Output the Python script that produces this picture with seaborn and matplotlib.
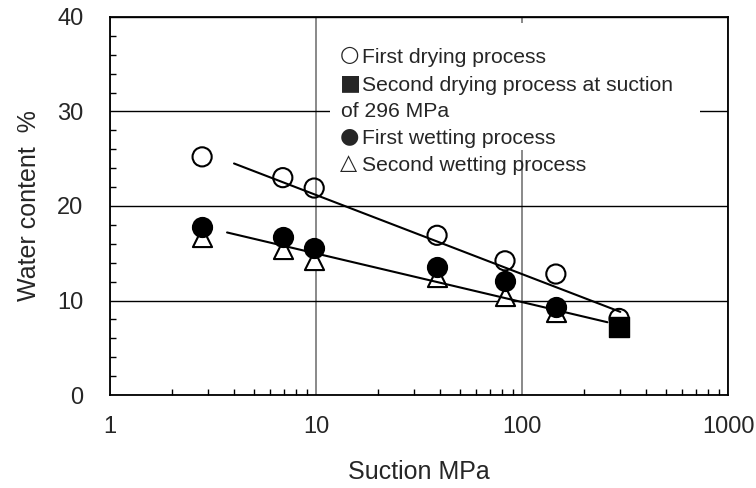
import matplotlib
matplotlib.use("Agg")
import matplotlib.pyplot as plt
from matplotlib.patches import Rectangle
from matplotlib.ticker import FixedLocator, LogLocator, MultipleLocator, NullFormatter
import seaborn as sns
import pandas as pd

# Messwerte (Saugspannung in MPa, Wassergehalt in %)
suction = [2.8, 6.9, 9.8, 38.7, 82.7, 146, 296]
first_drying = [25.2, 23.0, 21.9, 16.9, 14.2, 12.8, 8.1]

suction_wet = [2.8, 6.9, 9.8, 38.7, 82.7, 146]
first_wetting = [17.8, 16.7, 15.6, 13.5, 12.1, 9.3]
second_wetting = [16.7, 15.5, 14.3, 12.5, 10.5, 8.8]

suction_second_drying = [296]
second_drying = [7.2]

fit_dry_x = [4.0, 300]
fit_dry_y = [24.5, 8.8]
fit_wet_x = [3.7, 260]
fit_wet_y = [17.2, 7.7]

# Legende: Symbol + Text je Zeile
legend_symbols = ["\u25cb", "\u25a0", "", "\u25cf", "\u25b3"]
legend_texts = [
    "First drying process",
    "Second drying process at suction",
    "of 296 MPa",
    "First wetting process",
    "Second wetting process",
]

sns.set_style("white")
plt.rcParams["font.family"] = ["Liberation Sans", "DejaVu Sans"]
plt.rcParams["font.size"] = 15.5

df_dry = pd.DataFrame({"s": suction, "w": first_drying})
df_wet1 = pd.DataFrame({"s": suction_wet, "w": first_wetting})
df_wet2 = pd.DataFrame({"s": suction_wet, "w": second_wetting})
df_dry2 = pd.DataFrame({"s": suction_second_drying, "w": second_drying})
df_fit_dry = pd.DataFrame({"s": fit_dry_x, "w": fit_dry_y})
df_fit_wet = pd.DataFrame({"s": fit_wet_x, "w": fit_wet_y})

fig = plt.figure(figsize=(7.56, 4.88), dpi=100)
ax = fig.add_axes([110 / 756, 93 / 488, 618 / 756, 378 / 488])
ax.set_xscale("log")

sns.scatterplot(data=df_wet2, x="s", y="w", ax=ax, marker="^", s=190,
                facecolor="white", edgecolor="black", linewidth=1.5, zorder=3)
sns.scatterplot(data=df_wet1, x="s", y="w", ax=ax, marker="o", s=190,
                facecolor="black", edgecolor="black", linewidth=1.5, zorder=4)
sns.lineplot(data=df_fit_dry, x="s", y="w", ax=ax, color="black", linewidth=1.5, zorder=5)
sns.lineplot(data=df_fit_wet, x="s", y="w", ax=ax, color="black", linewidth=1.5, zorder=5)
sns.scatterplot(data=df_dry, x="s", y="w", ax=ax, marker="o", s=190,
                facecolor="none", edgecolor="black", linewidth=1.5, zorder=6)
sns.scatterplot(data=df_dry2, x="s", y="w", ax=ax, marker="s", s=200,
                facecolor="black", edgecolor="black", linewidth=1, zorder=7)

ax.set_xlim(1, 1000)
ax.set_ylim(0, 40)

ax.xaxis.set_major_locator(FixedLocator([1, 10, 100, 1000]))
ax.set_xticklabels(["1", "10", "100", "1000"])
ax.xaxis.set_minor_locator(LogLocator(base=10, subs=[2, 3, 4, 5, 6, 7, 8, 9]))
ax.xaxis.set_minor_formatter(NullFormatter())
ax.yaxis.set_major_locator(MultipleLocator(10))
ax.yaxis.set_minor_locator(MultipleLocator(2))

ax.tick_params(which="major", length=0)
ax.tick_params(axis="y", which="major", pad=19, labelsize=17)
ax.tick_params(axis="x", which="major", pad=15, labelsize=17)
ax.tick_params(which="minor", direction="in", length=4, width=1, color="black",
               left=True, bottom=True, top=False, right=False)

ax.set_axisbelow(True)
ax.xaxis.grid(True, which="major", color="#808080", linewidth=1.3)
ax.yaxis.grid(True, which="major", color="black", linewidth=1.0)

for sp in ax.spines.values():
    sp.set_color("black")
    sp.set_linewidth(1.3)

ax.set_xlabel("Suction MPa", fontsize=18, labelpad=16)
ax.set_ylabel("Water content  %", fontsize=18, labelpad=12)

# weisser Hintergrund fuer die Legende (verdeckt Gitterlinien)
ax.add_patch(Rectangle((0.356, 0.648), 0.599, 0.336, transform=ax.transAxes,
                       facecolor="white", edgecolor="none", zorder=1))
baselines = [63, 91, 117, 144, 171]
for sym, txt, yb in zip(legend_symbols, legend_texts, baselines):
    yf = 1 - yb / 488
    if sym:
        fig.text(340 / 756, yf + 1.5 / 488, sym, ha="left", va="baseline", fontsize=16,
                 family=["DejaVu Sans"], zorder=8)
        fig.text(362 / 756, yf, txt, ha="left", va="baseline", fontsize=15.2, zorder=8)
    else:
        fig.text(341 / 756, yf, txt, ha="left", va="baseline", fontsize=15.2, zorder=8)

fig.savefig("out.png", dpi=100)
